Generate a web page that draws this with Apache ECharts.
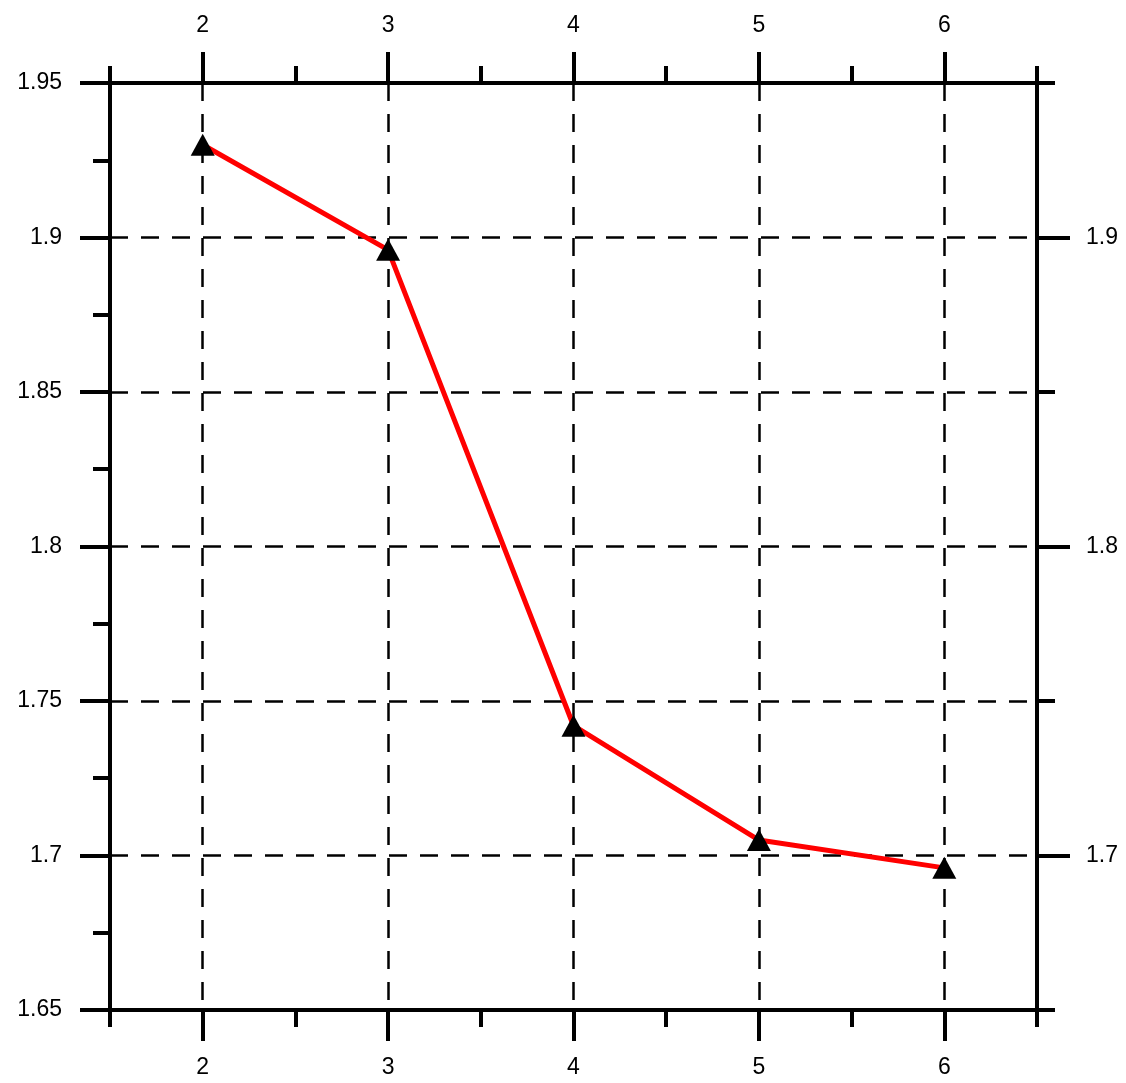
<!DOCTYPE html>
<html>
<head>
<meta charset="utf-8">
<style>
    html, body { margin: 0; padding: 0; background: #fff; }
    #main { width: 1126px; height: 1083px; }
</style>
</head>
<body>
<div id="main"></div>
<script src="https://cdn.jsdelivr.net/npm/echarts@6/dist/echarts.min.js"></script>
<script>
    // data
    var xValues = [2, 3, 4, 5, 6];
    var yValues = [1.930, 1.896, 1.742, 1.705, 1.696];
    var xTicks = [2, 3, 4, 5, 6];
    var rightTicks = [1.7, 1.8, 1.9];

    var myChart = echarts.init(document.getElementById('main'));
    var font = { color: '#000', fontSize: 23, fontFamily: 'Arial, Liberation Sans, sans-serif' };
    var line = { show: true, lineStyle: { color: '#000', width: 4 } };
    var dashed = { show: true, lineStyle: { color: '#000', width: 2.5, type: [18, 13] } };

    // x axes: one carries the long ticks at integers, the other the short ones at halves
    function xAxisPair(pos, withGrid) {
        return [
            {
                type: 'value', position: pos, min: 1.5, max: 6.5,
                axisLine: line,
                axisTick: { show: true, length: 31, customValues: xTicks, lineStyle: { width: 4, color: '#000' } },
                axisLabel: Object.assign({ margin: 46, customValues: xTicks }, font),
                splitLine: withGrid ? dashed : { show: false }
            },
            {
                type: 'value', position: pos, min: 1.5, max: 6.5, interval: 0.5,
                axisLine: line,
                axisTick: { show: true, length: 17, lineStyle: { width: 4, color: '#000' } },
                axisLabel: { show: false },
                splitLine: { show: false }
            }
        ];
    }

    myChart.setOption({
        animation: false,
        grid: { left: 110, right: 89, top: 83, bottom: 73, containLabel: false },
        xAxis: xAxisPair('bottom', true).concat(xAxisPair('top', false)),
        yAxis: [
            {
                type: 'value', position: 'left', min: 1.65, max: 1.95, interval: 0.05,
                axisLine: line,
                axisTick: { show: true, length: 30, lineStyle: { width: 4, color: '#000' } },
                minorTick: { show: true, splitNumber: 2, length: 17, lineStyle: { width: 4, color: '#000' } },
                axisLabel: Object.assign({ margin: 48 }, font),
                splitLine: dashed
            },
            {
                type: 'value', position: 'right', min: 1.65, max: 1.95, interval: 0.05,
                axisLine: line,
                axisTick: { show: true, length: 18, lineStyle: { width: 4, color: '#000' } },
                axisLabel: { show: false },
                splitLine: { show: false }
            },
            {
                type: 'value', position: 'right', min: 1.65, max: 1.95,
                axisLine: line,
                axisTick: { show: true, length: 33, customValues: rightTicks, lineStyle: { width: 4, color: '#000' } },
                axisLabel: Object.assign({ margin: 49, customValues: rightTicks }, font),
                splitLine: { show: false }
            }
        ],
        series: [
            {
                type: 'line',
                xAxisIndex: 0,
                yAxisIndex: 0,
                data: xValues.map(function (x, i) { return [x, yValues[i]]; }),
                lineStyle: { color: '#ff0000', width: 5 },
                symbol: 'triangle',
                symbolSize: [24, 22],
                itemStyle: { color: '#000' },
                z: 5
            }
        ]
    });
</script>
</body>
</html>
